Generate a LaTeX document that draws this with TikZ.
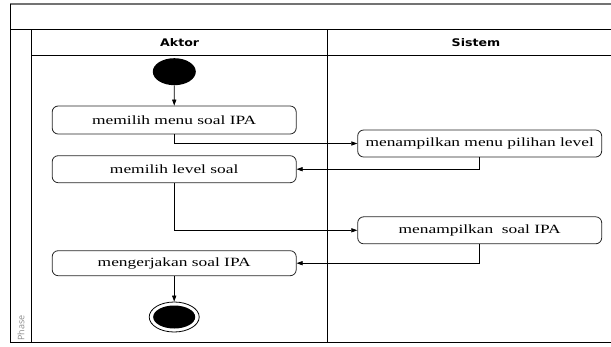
\documentclass[tikz,border=0pt]{standalone}
\usepackage{fontspec}
\setmainfont{Liberation Serif}[FakeStretch=1.38]
\newfontfamily\hdrfont{DejaVu Sans}[FakeStretch=1.2]
\newfontfamily\phasefont{Open Sans}
\usetikzlibrary{shapes.geometric,arrows.meta}

\tikzset{
  frameline/.style={draw=black, line width=0.8pt},
  topline/.style={draw=black!55, line width=1.6pt},
  action/.style={draw=black!85, line width=0.8pt, rounded corners=6pt,
    minimum width=244pt, inner sep=1pt,
    font=\fontsize{12.6}{15}\selectfont},
  lanehead/.style={font=\hdrfont\bfseries\fontsize{10.5}{12}\selectfont},
  flow/.style={draw=black, line width=0.7pt,
    -{Triangle[length=6pt,width=4.2pt]}},
}

\begin{document}
\begin{tikzpicture}[x=1pt,y=-1pt]
  \useasboundingbox (0,0) rectangle (611,346);

  % swimlane frame
  \draw[topline] (10,4) -- (611,4);
  \draw[frameline] (10,4) -- (10,342);
  \draw[frameline] (10,29.7) -- (611,29.7);
  \draw[frameline] (31.7,29.7) -- (31.7,342);
  \draw[frameline] (31.7,55) -- (611,55);
  \draw[frameline] (327.7,29.7) -- (327.7,342);
  \draw[frameline] (10,342) -- (611,342);

  % lane titles
  \node[lanehead] (aktor) at (179.7,42.3) {Aktor};
  \node[lanehead] (sistem) at (476,42.3) {Sistem};
  \node[font=\phasefont\fontsize{9}{10}\selectfont, text=black!45,
        rotate=90, anchor=west, inner sep=0pt] (phase) at (21,341) {Phase};

  % initial state
  \node[ellipse, fill=black, minimum width=43pt, minimum height=27pt,
        inner sep=0pt] (start) at (174.3,71.7) {};

  % actions
  \node[action, minimum height=28pt] (a1) at (174.2,120) {memilih menu soal IPA};
  \node[action, minimum height=27pt] (s1) at (479.7,143.5) {menampilkan menu pilihan level};
  \node[action, minimum height=27pt] (a2) at (174.2,169.2) {memilih level soal};
  \node[action, minimum height=27pt] (s2) at (479.7,230.3) {menampilkan\ \ soal IPA};
  \node[action, minimum height=25pt] (a3) at (174.2,263.2) {mengerjakan soal IPA};

  % final state
  \node[ellipse, draw=black, line width=0.8pt, fill=white,
        minimum width=50pt, minimum height=30pt, inner sep=0pt] (end) at (174.2,317) {};
  \node[ellipse, fill=black, minimum width=42pt, minimum height=23pt,
        inner sep=0pt] (endcore) at (end.center) {};

  % control flow
  \draw[flow] (start) -- (a1);
  \draw[flow] (a1.south) |- (s1.west);
  \draw[flow] (s1.south) |- (a2.east);
  \draw[flow] (a2.south) |- (s2.west);
  \draw[flow] (s2.south) |- (a3.east);
  \draw[flow] (a3) -- (end);
\end{tikzpicture}
\end{document}
